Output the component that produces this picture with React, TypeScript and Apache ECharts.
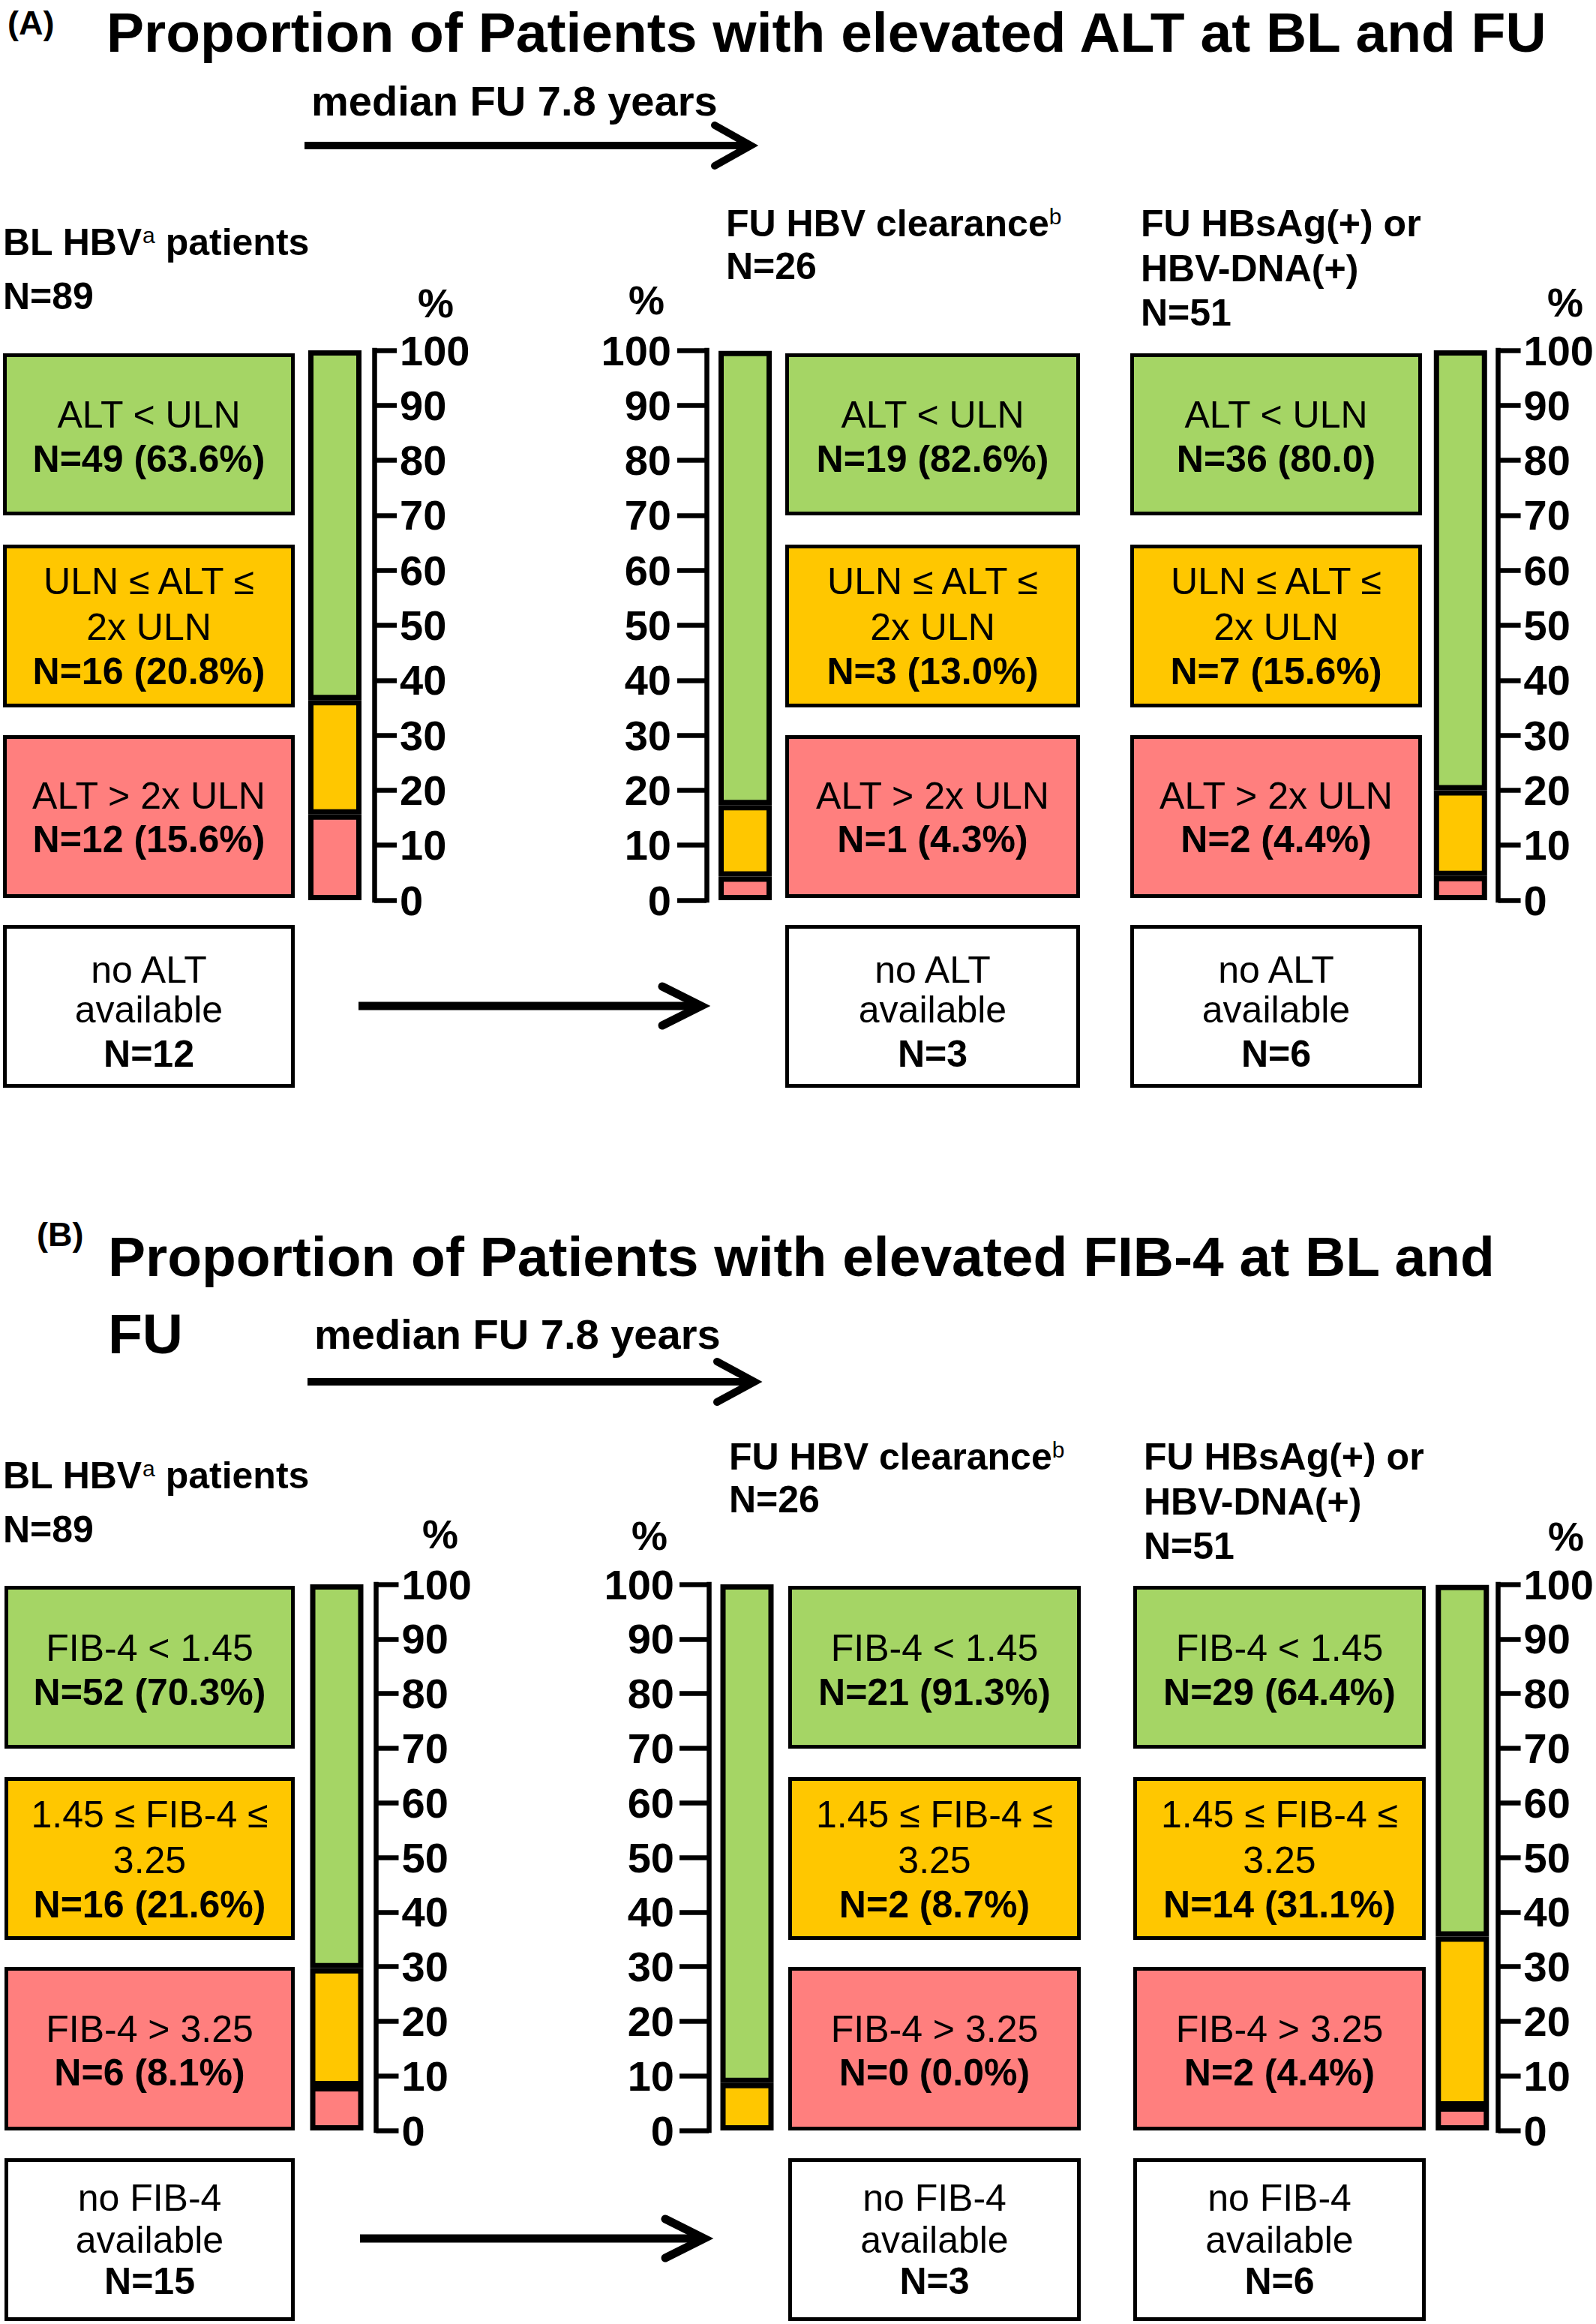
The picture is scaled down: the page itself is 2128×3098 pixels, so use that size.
import React, { useEffect, useRef } from 'react';
import * as echarts from 'echarts';

const FONT = '"Liberation Sans", Arial, Helvetica, sans-serif';

// ---------- DATA ----------
// segment order: bottom to top = red, yellow, green
const COLORS = ['#FF7F7E', '#FFC700', '#A5D565'];

// Panel A: ALT
const altTitle = ['Proportion of Patients with elevated ALT at BL and FU'];
const altRed = [15.6, 4.3, 4.4];
const altYellow = [20.8, 13.0, 15.6];
const altGreen = [63.6, 82.6, 80.0];
const altGreenLabels = ['N=49 (63.6%)', 'N=19 (82.6%)', 'N=36 (80.0)'];
const altYellowLabels = ['N=16 (20.8%)', 'N=3 (13.0%)', 'N=7 (15.6%)'];
const altRedLabels = ['N=12 (15.6%)', 'N=1 (4.3%)', 'N=2 (4.4%)'];
const altMissingLabels = ['N=12', 'N=3', 'N=6'];
const altCategoryText = [['ALT < ULN'], ['ULN ≤ ALT ≤', '2x ULN'], ['ALT > 2x ULN'], ['no ALT', 'available']];

// Panel B: FIB-4
const fibTitle = ['Proportion of Patients with elevated FIB-4 at BL and', 'FU'];
const fibRed = [8.1, 0.0, 4.4];
const fibYellow = [21.6, 8.7, 31.1];
const fibGreen = [70.3, 91.3, 64.4];
const fibGreenLabels = ['N=52 (70.3%)', 'N=21 (91.3%)', 'N=29 (64.4%)'];
const fibYellowLabels = ['N=16 (21.6%)', 'N=2 (8.7%)', 'N=14 (31.1%)'];
const fibRedLabels = ['N=6 (8.1%)', 'N=0 (0.0%)', 'N=2 (4.4%)'];
const fibMissingLabels = ['N=15', 'N=3', 'N=6'];
const fibCategoryText = [['FIB-4 < 1.45'], ['1.45 ≤ FIB-4 ≤', '3.25'], ['FIB-4 > 3.25'], ['no FIB-4', 'available']];

// group headers (rich text: {b|...} bold, {s|...} superscript)
const groupHeaders = [
  ['{b|BL HBV}{s|a}{b| patients}', '{b|N=89}'],
  ['{b|FU HBV clearance}{s|b}', '{b|N=26}'],
  ['{b|FU HBsAg(+) or}', '{b|HBV-DNA(+)}', '{b|N=51}'],
];
const followUpText = 'median FU 7.8 years';
const yMin = 0;
const yMax = 100;
const yInterval = 10;

// ---------- LAYOUT ----------
const BAR_W = 71;
const BAR_STROKE = 7;
const BOX_STROKE = 5;

const LAYOUT_A = {
  tag: '(A)', tagX: 10, tagY: 30,
  titleX: 142, titleY: [43],
  fuX: 415, fuY: 134,
  arrowTop: { x0: 406, x1: 1001, y: 194, hw: 48, hh: 27 },
  arrowBottom: { x0: 478, x1: 935, y: 1341, hw: 52, hh: 26 },
  bars: [
    { center: 446.5, axis: 499, side: 'right', tickLen: 30, margin: 34 },
    { center: 993.5, axis: 942, side: 'left', tickLen: 39, margin: 47 },
    { center: 1949.5, axis: 2002, side: 'right', tickLen: 30, margin: 34 },
  ],
  gridTop: 467, gridH: 733,
  boxX: [[4, 393], [1047, 1440], [1507, 1896]],
  boxY: [[471, 687], [726, 943], [980, 1197], [1233, 1450]],
  pct: [[581, 404], [862, 400], [2087, 403]],
  headerX: [4, 968, 1521],
  headerY: [[323, 395], [298, 355], [298, 358, 417]],
  textY: [[553, 612], [775, 836, 895], [1061, 1119], [1293, 1346, 1405]],
};

const LAYOUT_B = {
  tag: '(B)', tagX: 49, tagY: 1645,
  titleX: 144, titleY: [1675, 1778],
  fuX: 419, fuY: 1778,
  arrowTop: { x0: 410, x1: 1006, y: 1842, hw: 50, hh: 27 },
  arrowBottom: { x0: 480, x1: 939, y: 2984, hw: 52, hh: 26 },
  bars: [
    { center: 449, axis: 501.5, side: 'right', tickLen: 30, margin: 34 },
    { center: 996, axis: 945, side: 'left', tickLen: 39, margin: 46 },
    { center: 1953, axis: 2004, side: 'right', tickLen: 30, margin: 34 },
  ],
  gridTop: 2112, gridH: 728,
  boxX: [[6, 393], [1051, 1441], [1511, 1901]],
  boxY: [[2114, 2331], [2369, 2586], [2622, 2840], [2877, 3094]],
  pct: [[587, 2045], [866, 2047], [2088, 2048]],
  headerX: [4, 972, 1525],
  headerY: [[1967, 2039], [1942, 1999], [1942, 2002, 2061]],
  textY: [[2197, 2256], [2419, 2480, 2539], [2705, 2763], [2930, 2986, 3041]],
};

function txt(x: number, y: number, text: string, size: number, bold: boolean, align = 'center') {
  return {
    type: 'text', x, y, silent: true,
    style: {
      text, fontSize: size, fontWeight: bold ? 'bold' : 'normal', fontFamily: FONT,
      fill: '#000', align, verticalAlign: 'middle',
    },
  };
}

function richTxt(x: number, y: number, text: string) {
  return {
    type: 'text', x, y, silent: true,
    style: {
      text, fontFamily: FONT, fill: '#000', align: 'left', verticalAlign: 'middle',
      rich: {
        b: { fontSize: 50, fontWeight: 'bold', fontFamily: FONT, fill: '#000' },
        s: { fontSize: 30, fontWeight: 'normal', fontFamily: FONT, fill: '#000', verticalAlign: 'top' },
      },
    },
  };
}

function boxRect(x0: number, x1: number, y0: number, y1: number, fill: string) {
  const h = BOX_STROKE / 2;
  return {
    type: 'rect', silent: true,
    shape: { x: x0 + h, y: y0 + h, width: x1 - x0 - BOX_STROKE, height: y1 - y0 - BOX_STROKE },
    style: { fill, stroke: '#000', lineWidth: BOX_STROKE },
  };
}

function arrow(a: { x0: number; x1: number; y: number; hw: number; hh: number }, w: number) {
  return [
    { type: 'line', silent: true, shape: { x1: a.x0, y1: a.y, x2: a.x1 - 4, y2: a.y }, style: { stroke: '#000', lineWidth: w } },
    {
      type: 'polyline', silent: true,
      shape: { points: [[a.x1 - a.hw, a.y - a.hh], [a.x1, a.y], [a.x1 - a.hw, a.y + a.hh]] },
      style: { stroke: '#000', lineWidth: w, fill: 'none', lineJoin: 'miter', lineCap: 'round' },
    },
  ];
}

function renderSegment(params: any, api: any) {
  const s = api.value(1);
  const e = api.value(2);
  const c = api.value(3);
  if (e - s <= 0) return null;
  const p0 = api.coord([0, s]);
  const p1 = api.coord([0, e]);
  const sw = BAR_STROKE;
  return {
    type: 'rect',
    shape: { x: p0[0] - BAR_W / 2 + sw / 2, y: p1[1] + sw / 2, width: BAR_W - sw, height: p0[1] - p1[1] - sw },
    style: { fill: COLORS[c], stroke: '#000', lineWidth: sw },
  };
}

function buildPanel(
  L: any, title: string[], red: number[], yellow: number[], green: number[],
  gLab: string[], yLab: string[], rLab: string[], mLab: string[], catText: string[][],
  offset: number, grids: any[], xAxes: any[], yAxes: any[], series: any[], graphics: any[],
) {
  // title & arrows
  graphics.push(txt(L.tagX, L.tagY, L.tag, 45, true, 'left'));
  title.forEach((t, i) => graphics.push(txt(L.titleX, L.titleY[i], t, 75, true, 'left')));
  graphics.push(txt(L.fuX, L.fuY, followUpText, 56, true, 'left'));
  graphics.push(...arrow(L.arrowTop, 10));
  graphics.push(...arrow(L.arrowBottom, 11));

  for (let g = 0; g < 3; g++) {
    const idx = offset + g;
    const b = L.bars[g];
    const left = b.side === 'right' ? 2 * b.center - b.axis : b.axis;
    const width = b.side === 'right' ? b.axis - left : 2 * (b.center - b.axis);
    grids.push({ left, top: L.gridTop, width, height: L.gridH, containLabel: false });
    xAxes.push({ gridIndex: idx, type: 'category', data: ['x'], show: false });
    yAxes.push({
      gridIndex: idx, type: 'value', min: yMin, max: yMax, interval: yInterval, position: b.side,
      axisLine: { show: true, lineStyle: { color: '#000', width: 6.5, cap: 'square' } },
      axisTick: { show: true, length: b.tickLen, lineStyle: { color: '#000', width: 6.5 } },
      axisLabel: { margin: b.margin, fontSize: 56, fontWeight: 'bold', fontFamily: FONT, color: '#000' },
      splitLine: { show: false },
    });
    const vals = [red[g], yellow[g], green[g]];
    const data: number[][] = [];
    let acc = 0;
    vals.forEach((v, c) => {
      data.push([0, acc, acc + v, c]);
      acc += v;
    });
    series.push({
      type: 'custom', coordinateSystem: 'cartesian2d', xAxisIndex: idx, yAxisIndex: idx,
      renderItem: renderSegment, data, encode: { x: 0, y: [1, 2] }, silent: true,
    });

    // "%" labels
    graphics.push(txt(L.pct[g][0], L.pct[g][1], '%', 54, true));
    // headers
    groupHeaders[g].forEach((h, i) => graphics.push(richTxt(L.headerX[g], L.headerY[g][i], h)));

    // boxes
    const [bx0, bx1] = L.boxX[g];
    const cx = (bx0 + bx1) / 2;
    const fills = ['#A5D565', '#FFC700', '#FF7F7E', '#FFFFFF'];
    const nLabels = [gLab[g], yLab[g], rLab[g], mLab[g]];
    for (let k = 0; k < 4; k++) {
      graphics.push(boxRect(bx0, bx1, L.boxY[k][0], L.boxY[k][1], fills[k]));
      const lines = catText[k];
      lines.forEach((ln, i) => graphics.push(txt(cx, L.textY[k][i], ln, 50, false)));
      graphics.push(txt(cx, L.textY[k][lines.length], nLabels[k], 50, true));
    }
  }
}

export default function App() {
  const ref = useRef<HTMLDivElement>(null);
  useEffect(() => {
    document.body.style.margin = '0';
    const chart = echarts.init(ref.current as HTMLDivElement, null, { renderer: 'svg' });
    const grids: any[] = [];
    const xAxes: any[] = [];
    const yAxes: any[] = [];
    const series: any[] = [];
    const graphics: any[] = [];
    buildPanel(LAYOUT_A, altTitle, altRed, altYellow, altGreen, altGreenLabels, altYellowLabels, altRedLabels,
      altMissingLabels, altCategoryText, 0, grids, xAxes, yAxes, series, graphics);
    buildPanel(LAYOUT_B, fibTitle, fibRed, fibYellow, fibGreen, fibGreenLabels, fibYellowLabels, fibRedLabels,
      fibMissingLabels, fibCategoryText, 3, grids, xAxes, yAxes, series, graphics);
    chart.setOption({
      animation: false,
      backgroundColor: '#ffffff',
      grid: grids,
      xAxis: xAxes,
      yAxis: yAxes,
      series,
      graphic: { elements: graphics },
    });
    return () => chart.dispose();
  }, []);
  return <div ref={ref} style={{ width: 2128, height: 3098, background: '#fff' }} />;
}
